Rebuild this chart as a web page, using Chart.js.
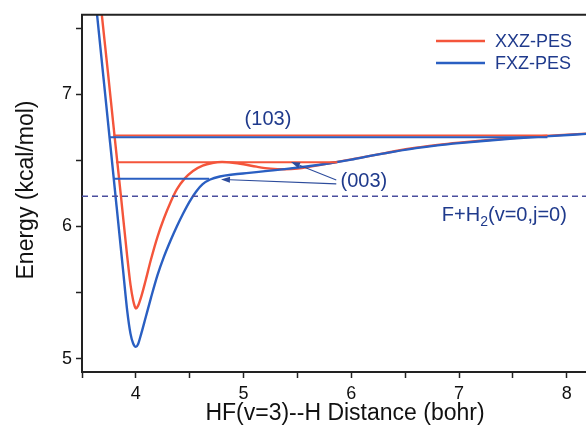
<!DOCTYPE html>
<html>
<head>
<meta charset="utf-8">
<script src="https://cdn.jsdelivr.net/npm/chart.js@4.4.1/dist/chart.umd.min.js"></script>
<style>
  body { margin: 0; background: #fff; }
  canvas { display: block; }
</style>
</head>
<body>
<canvas id="pesChart" width="586" height="427"></canvas>
<script>
// HF(v=3)--H distance (bohr) and energy (kcal/mol) along each surface
const rXxz = [3.665, 3.684, 3.74, 3.8, 3.86, 3.92, 3.95, 3.975, 3.99, 4.0, 4.02, 4.05, 4.09, 4.14, 4.2, 4.26, 4.32, 4.38, 4.45, 4.53, 4.62, 4.71, 4.8, 4.9, 5.0, 5.12, 5.25, 5.38, 5.5, 5.62, 5.74, 5.87, 6.0, 6.2, 6.4, 6.6, 6.8, 7.0, 7.25, 7.5, 7.8, 8.18];
const eXxz = [7.75, 7.6, 7.17, 6.7, 6.24, 5.77, 5.56, 5.44, 5.395, 5.38, 5.4, 5.47, 5.59, 5.75, 5.92, 6.06, 6.18, 6.28, 6.36, 6.42, 6.46, 6.48, 6.488, 6.482, 6.47, 6.452, 6.437, 6.432, 6.437, 6.452, 6.47, 6.488, 6.507, 6.537, 6.569, 6.596, 6.617, 6.634, 6.652, 6.668, 6.685, 6.702];

const rFxz = [3.62, 3.64, 3.7, 3.76, 3.82, 3.88, 3.92, 3.95, 3.975, 4.0, 4.02, 4.05, 4.09, 4.14, 4.2, 4.26, 4.32, 4.38, 4.44, 4.5, 4.56, 4.62, 4.69, 4.78, 4.9, 5.05, 5.2, 5.4, 5.6, 5.8, 6.0, 6.2, 6.4, 6.6, 6.8, 7.0, 7.25, 7.5, 7.8, 8.18];
const eFxz = [7.76, 7.6, 7.12, 6.64, 6.16, 5.68, 5.36, 5.19, 5.115, 5.09, 5.11, 5.19, 5.31, 5.46, 5.63, 5.77, 5.89, 6.0, 6.1, 6.19, 6.265, 6.32, 6.355, 6.378, 6.393, 6.405, 6.418, 6.435, 6.455, 6.478, 6.505, 6.537, 6.566, 6.592, 6.613, 6.63, 6.648, 6.664, 6.681, 6.7];

// resonance levels (103) and (003): energy, start and end of each bar
const levelNames = ['(103)', '(003)'];
const levelXxzE = [6.688, 6.486];
const levelXxzFrom = [3.79, 3.815];
const levelXxzTo = [7.82, 5.87];
const levelFxzE = [6.675, 6.361];
const levelFxzFrom = [3.752, 3.79];
const levelFxzTo = [7.82, 4.68];

// F+H2(v=0,j=0) asymptote
const asymptoteE = 6.228;

// axis ranges and tick labels
const xRange = [3.5, 8.178];
const yRange = [4.9, 7.6];
const xTickLabels = [4, 5, 6, 7, 8];
const yTickLabels = [5, 6, 7];

// annotation anchors (data units)
const label103At = [5.226, 6.805];
const label003At = [5.9, 6.338];
const asymLabelAt = [6.84, 6.083];
const arrowTails = [[5.86, 6.352], [5.86, 6.322]];
const arrowHeads = [[5.44, 6.487], [4.79, 6.356]];

const RED = '#f4553b';
const BLUE = '#2a5fc2';
const NAVY = '#1f3a8c';
const FONT = '"Liberation Sans", Arial, Helvetica, sans-serif';

const toPoints = (xs, ys) => xs.map((x, i) => ({ x: x, y: ys[i] }));

function levelSet(from, to, e, color) {
  return from.map((x0, i) => ({
    data: [{ x: x0, y: e[i] }, { x: to[i], y: e[i] }],
    borderColor: color,
    borderWidth: 2,
    pointRadius: 0,
    showLine: true,
    tension: 0
  }));
}

const datasets = [
  {
    data: [{ x: xRange[0], y: asymptoteE }, { x: xRange[1], y: asymptoteE }],
    borderColor: '#4a4e9e',
    borderWidth: 1.5,
    borderDash: [6, 4],
    pointRadius: 0,
    showLine: true
  },
  ...levelSet(levelFxzFrom, levelFxzTo, levelFxzE, BLUE),
  ...levelSet(levelXxzFrom, levelXxzTo, levelXxzE, RED),
  {
    label: 'FXZ-PES',
    data: toPoints(rFxz, eFxz),
    borderColor: BLUE,
    borderWidth: 2.4,
    pointRadius: 0,
    showLine: true,
    cubicInterpolationMode: 'monotone'
  },
  {
    label: 'XXZ-PES',
    data: toPoints(rXxz, eXxz),
    borderColor: RED,
    borderWidth: 2.4,
    pointRadius: 0,
    showLine: true,
    cubicInterpolationMode: 'monotone'
  }
];

function arrow(ctx, x0, y0, x1, y1) {
  const a = Math.atan2(y1 - y0, x1 - x0);
  const len = 9, half = 3;
  ctx.beginPath();
  ctx.moveTo(x0, y0);
  ctx.lineTo(x1 - Math.cos(a) * len, y1 - Math.sin(a) * len);
  ctx.stroke();
  ctx.beginPath();
  ctx.moveTo(x1, y1);
  ctx.lineTo(x1 - Math.cos(a) * len - Math.sin(a) * half, y1 - Math.sin(a) * len + Math.cos(a) * half);
  ctx.lineTo(x1 - Math.cos(a) * len + Math.sin(a) * half, y1 - Math.sin(a) * len - Math.cos(a) * half);
  ctx.closePath();
  ctx.fill();
}

const decorations = {
  id: 'decorations',
  afterDraw(chart) {
    const ctx = chart.ctx;
    const xs = chart.scales.x, ys = chart.scales.y;
    const area = chart.chartArea;
    const px = v => xs.getPixelForValue(v);
    const py = v => ys.getPixelForValue(v);
    ctx.save();

    // top frame line
    ctx.strokeStyle = '#222';
    ctx.lineWidth = 2;
    ctx.beginPath();
    ctx.moveTo(area.left - 1, area.top);
    ctx.lineTo(area.right, area.top);
    ctx.stroke();

    // legend
    const legendRows = [['XXZ-PES', RED, 41], ['FXZ-PES', BLUE, 63]];
    ctx.font = '18px ' + FONT;
    ctx.textBaseline = 'middle';
    ctx.textAlign = 'left';
    legendRows.forEach(([name, color, y]) => {
      ctx.strokeStyle = color;
      ctx.lineWidth = 2.5;
      ctx.beginPath();
      ctx.moveTo(436, y);
      ctx.lineTo(485, y);
      ctx.stroke();
      ctx.fillStyle = NAVY;
      ctx.fillText(name, 495, y + 1);
    });

    // level labels
    ctx.fillStyle = NAVY;
    ctx.font = '20px ' + FONT;
    ctx.textAlign = 'center';
    ctx.fillText(levelNames[0], px(label103At[0]), py(label103At[1]));
    ctx.textAlign = 'left';
    ctx.fillText(levelNames[1], px(label003At[0]), py(label003At[1]));

    // asymptote label with subscript
    let lx = px(asymLabelAt[0]);
    const ly = py(asymLabelAt[1]);
    ctx.fillText('F+H', lx, ly);
    lx += ctx.measureText('F+H').width;
    ctx.font = '14px ' + FONT;
    ctx.fillText('2', lx, ly + 7);
    lx += ctx.measureText('2').width;
    ctx.font = '20px ' + FONT;
    ctx.fillText('(v=0,j=0)', lx, ly);

    // arrows from (003) to the two levels
    ctx.strokeStyle = '#2d4c9c';
    ctx.fillStyle = '#2d4c9c';
    ctx.lineWidth = 1.1;
    arrowTails.forEach((t, i) => {
      const h = arrowHeads[i];
      arrow(ctx, px(t[0]), py(t[1]), px(h[0]), py(h[1]));
    });

    // axis titles
    ctx.fillStyle = '#111';
    ctx.font = '23px ' + FONT;
    ctx.textAlign = 'center';
    ctx.fillText('HF(v=3)--H Distance (bohr)', 345, 414);
    ctx.translate(27, 190);
    ctx.rotate(-Math.PI / 2);
    ctx.fillText('Energy (kcal/mol)', 0, 0);
    ctx.restore();
  }
};

const halfSteps = scale => {
  scale.ticks = scale.ticks.filter(t => Math.abs(t.value * 2 - Math.round(t.value * 2)) < 1e-6);
};
const axisGrid = {
  drawOnChartArea: false,
  tickLength: 6,
  tickColor: '#222',
  tickWidth: 1.5
};
const isLabelled = (list, v) => list.some(t => Math.abs(t - v) < 1e-6);

new Chart(document.getElementById('pesChart'), {
  type: 'scatter',
  data: { datasets: datasets },
  options: {
    responsive: false,
    animation: false,
    devicePixelRatio: 1,
    layout: { padding: { top: 13, right: 0, left: 0, bottom: 0 } },
    plugins: { legend: { display: false }, tooltip: { enabled: false } },
    scales: {
      x: {
        type: 'linear',
        min: xRange[0],
        max: xRange[1],
        afterFit: s => { s.height = 55; },
        afterBuildTicks: halfSteps,
        ticks: {
          stepSize: 0.5,
          includeBounds: false,
          autoSkip: false,
          maxRotation: 0,
          padding: 5,
          color: '#111',
          font: { family: FONT, size: 18 },
          callback: v => (isLabelled(xTickLabels, v) ? String(Math.round(v)) : '')
        },
        grid: axisGrid,
        border: { color: '#222', width: 2 }
      },
      y: {
        type: 'linear',
        min: yRange[0],
        max: yRange[1],
        afterFit: s => { s.width = 82; },
        afterBuildTicks: halfSteps,
        ticks: {
          stepSize: 0.5,
          includeBounds: false,
          autoSkip: false,
          padding: 4,
          color: '#111',
          font: { family: FONT, size: 18 },
          callback: v => (isLabelled(yTickLabels, v) ? String(Math.round(v)) : '')
        },
        grid: axisGrid,
        border: { color: '#222', width: 2 }
      }
    }
  },
  plugins: [decorations]
});
</script>
</body>
</html>
